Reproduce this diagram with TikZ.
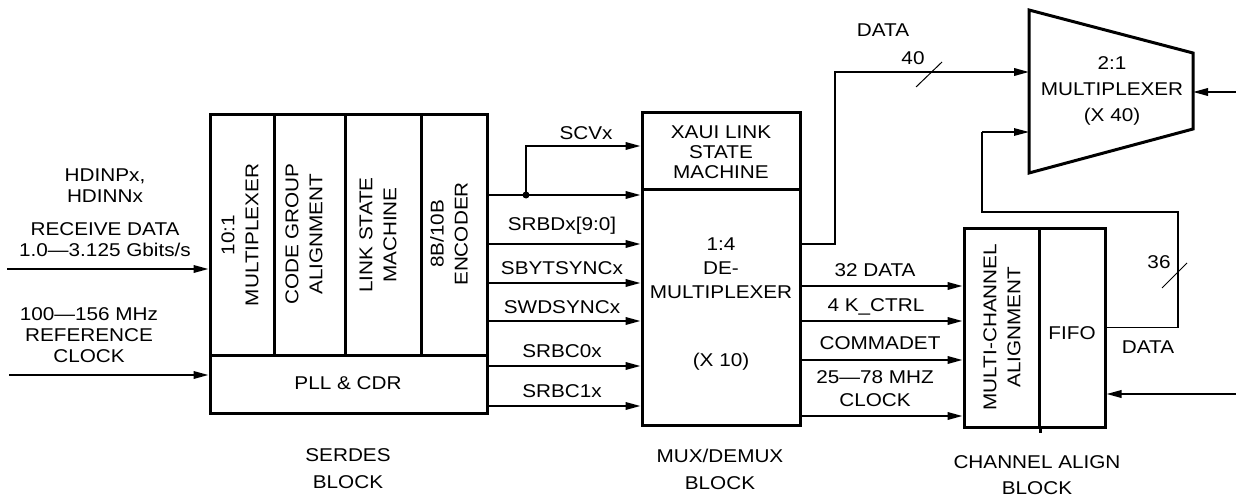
\documentclass[tikz,border=0pt]{standalone}
\usepackage{fontspec}
\setmainfont[FakeStretch=1.12]{Liberation Sans}
\usetikzlibrary{arrows.meta,calc}
\begin{document}
\begin{tikzpicture}[x=1pt,y=-1pt,
  box/.style={draw,line width=3pt,inner sep=0pt},
  arr/.style={-{Triangle[length=15pt,width=7.5pt]},line width=2pt},
  fb/.style={line width=1.4pt},
  sl/.style={line width=1pt},
  txt/.style={font=\fontsize{18.5}{21}\selectfont,align=center,inner sep=0pt},
  lab/.style={txt,text height=13.2pt,text depth=0pt},
  rtxt/.style={font=\fontsize{18.5}{24}\selectfont,align=center,inner sep=0pt,rotate=90},
  btxt/.style={font=\fontsize{18.5}{27}\selectfont,align=center,inner sep=0pt}]
\useasboundingbox (0,0) rectangle (1236,500);
% SERDES block
\node[box,minimum width=64,minimum height=240] (m10) at (242,235) {};
\node[box,minimum width=71,minimum height=240] (cga) at (309.5,235) {};
\node[box,minimum width=76,minimum height=240] (lsm) at (383,235) {};
\node[box,minimum width=66,minimum height=240] (enc) at (454,235) {};
\node[box,minimum width=277,minimum height=58] (pll) at (348.5,384) {};
\node[rtxt] (m10t) at (240,235) {10:1\\MULTIPLEXER};
\node[rtxt] (cgat) at (304,234) {CODE GROUP\\ALIGNMENT};
\node[rtxt] (lsmt) at (378,235) {LINK STATE\\MACHINE};
\node[rtxt] (enct) at (449,234) {8B/10B\\ENCODER};
\node[lab] (pllt) at (348,383) {PLL \& CDR};
% MUX/DEMUX block
\node[box,minimum width=158,minimum height=76] (xaui) at (721,151) {};
\node[box,minimum width=158,minimum height=236] (dmx) at (721,307) {};
\node[txt,font=\fontsize{18.5}{20}\selectfont] (xauit) at (721,152) {XAUI LINK\\STATE\\MACHINE};
\node[txt,font=\fontsize{18.5}{24}\selectfont] (dmxt) at (721,268) {1:4\\DE-\\MULTIPLEXER};
\node[txt] (dmxt2) at (721,362) {(X 10)};
% Channel align block
\node[box,minimum width=75,minimum height=199] (mca) at (1001.5,327.5) {};
\node[box,minimum width=66,minimum height=199] (fifo) at (1072,327.5) {};
\draw[line width=2.5pt] (mca.south east) -- ++(0,4);
\node[rtxt] (mcat) at (1002,327) {MULTI-CHANNEL\\ALIGNMENT};
\node[lab] (fifot) at (1072,333) {FIFO};
% 2:1 multiplexer
\coordinate (ta) at (1029,10);
\coordinate (tb) at (1193,53);
\coordinate (tc) at (1193,129);
\coordinate (td) at (1029,173);
\draw[line width=3pt,line join=miter] (ta) -- (tb) -- (tc) -- (td) -- cycle;
\node[txt,font=\fontsize{18.5}{26}\selectfont] (mxt) at (1112,91) {2:1\\MULTIPLEXER\\(X 40)};
% left inputs
\coordinate (inA) at (7,269);
\coordinate (inB) at (9,375);
\draw[arr] (inA) -- (inA -| m10.west);
\draw[arr] (inB) -- (inB -| pll.west);
\node[txt] (l1) at (105,186) {HDINPx,\\HDINNx};
\node[txt] (l2) at (105,240) {RECEIVE DATA\\1.0—3.125 Gbits/s};
\node[txt] (l3) at (89,335) {100—156 MHz\\REFERENCE\\CLOCK};
% SERDES -> MUX/DEMUX
\coordinate (j) at (526,195);
\draw[arr] (enc.east |- j) -- (dmx.west |- j);
\draw[arr] (j) |- (xaui.west |- 0,146);
\fill (j) circle (3.5pt);
\draw[arr] (enc.east |- 0,244) -- (dmx.west |- 0,244);
\draw[arr] (enc.east |- 0,283) -- (dmx.west |- 0,283);
\draw[arr] (enc.east |- 0,321) -- (dmx.west |- 0,321);
\draw[arr] (pll.east |- 0,366) -- (dmx.west |- 0,366);
\draw[arr] (pll.east |- 0,406) -- (dmx.west |- 0,406);
\node[lab] (s0) at (586,133) {SCVx};
\node[lab] (s1) at (562,224) {SRBDx[9:0]};
\node[lab] (s2) at (562,268) {SBYTSYNCx};
\node[lab] (s3) at (562,307) {SWDSYNCx};
\node[lab] (s4) at (562,351) {SRBC0x};
\node[lab] (s5) at (562,391) {SRBC1x};
% MUX/DEMUX -> channel align
\draw[arr] (dmx.east |- 0,286) -- (mca.west |- 0,286);
\draw[arr] (dmx.east |- 0,321) -- (mca.west |- 0,321);
\draw[arr] (dmx.east |- 0,360) -- (mca.west |- 0,360);
\draw[arr] (dmx.east |- 0,416) -- (mca.west |- 0,416);
\node[lab] (o1) at (875,270) {32 DATA};
\node[lab] (o2) at (876,305) {4 K\_CTRL};
\node[lab] (o3) at (880,343) {COMMADET};
\node[txt,font=\fontsize{18.5}{23}\selectfont] (o4) at (875,389) {25—78 MHZ\\CLOCK};
% DATA 40 to 2:1 mux
\coordinate (b1) at (835,72);
\draw[arr] (dmx.east |- 0,244) -| (b1) -- (b1 -| ta);
\draw[sl] (916,87) -- (942,62);
\node[lab] (d40) at (913,58) {40};
\node[lab] (dd) at (883,30) {DATA};
% FIFO feedback to 2:1 mux
\coordinate (fb1) at (1178,212);
\coordinate (fb2) at (982,132);
\draw[fb] (fifo.east) -| (fb1) -- (fb1 -| fb2) -- (fb2);
\draw[fb,-{Triangle[length=15pt,width=7.5pt]}] (fb2) -- (fb2 -| ta);
\draw[sl] (1162,288) -- (1187,263);
\node[lab] (d36) at (1159,262) {36};
\node[lab] (d2) at (1148,347) {DATA};
% right inputs
\coordinate (r1) at (1236,92);
\coordinate (r2) at (1236,394);
\draw[arr] (r1) -- (r1 -| tb);
\draw[arr] (r2) -- (r2 -| fifo.east);
% bottom labels
\node[btxt] (bl1) at (348,469) {SERDES\\BLOCK};
\node[btxt] (bl2) at (720,469) {MUX/DEMUX\\BLOCK};
\node[btxt,font=\fontsize{18.5}{26}\selectfont] (bl3) at (1037,475) {CHANNEL ALIGN\\BLOCK};
\end{tikzpicture}
\end{document}
